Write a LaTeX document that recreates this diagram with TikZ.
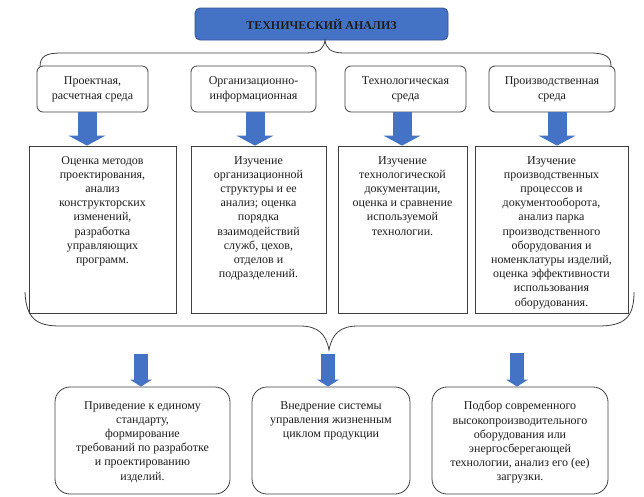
\documentclass[tikz,border=0pt]{standalone}
\usepackage{fontspec}
\setmainfont{Liberation Serif}
\usetikzlibrary{arrows.meta}
\definecolor{mblue}{HTML}{4472C4}
\definecolor{mblueborder}{HTML}{2F528F}
\definecolor{lineg}{HTML}{404040}
\definecolor{txtc}{HTML}{1E1E1E}
\tikzset{
  titlebox/.style={draw=mblueborder, fill=mblue, rounded corners=5pt, line width=0.8pt,
    minimum width=253pt, minimum height=32pt, inner sep=0pt,
    font=\bfseries\fontsize{12}{14}\selectfont, text=txtc},
  catbox/.style={draw=lineg, fill=white, rounded corners=6pt, line width=0.8pt,
    minimum height=46pt, inner sep=0pt, align=center,
    font=\fontsize{12}{15}\selectfont, text=txtc},
  contbox/.style={draw=lineg, fill=white, line width=0.8pt, minimum height=167pt, inner sep=0pt},
  resbox/.style={draw=lineg, fill=white, rounded corners=15pt, line width=0.8pt, minimum height=107pt, inner sep=0pt},
  bodytext/.style={anchor=north, inner sep=0pt, align=center,
    font=\fontsize{12}{14.2}\selectfont, text=txtc},
  bigarrow/.style={draw=mblue, line width=19pt, -{Triangle[width=37pt,length=10pt,line width=0pt]}},
  smallarrow/.style={draw=mblue, line width=14pt, -{Triangle[width=22pt,length=7pt,line width=0pt]}},
  bracepath/.style={draw=lineg, line width=0.8pt}
}
\begin{document}
\begin{tikzpicture}[x={(1pt,0pt)}, y={(0pt,-1pt)}]
\useasboundingbox (0,0) rectangle (644,496);

% title
\node[titlebox] (title) at (321.5,24) {ТЕХНИЧЕСКИЙ АНАЛИЗ};

% upper brace
\path[bracepath] (40,67) .. controls (40,56) and (46,53) .. (62,53) -- (306,53)
  .. controls (320,53) and (324,48) .. (325,40)
  .. controls (326,48) and (330,53) .. (344,53) -- (590,53)
  .. controls (606,53) and (611,57) .. (611,66);

% category boxes
\node[catbox, minimum width=111pt] (c1) at (92.5,89) {Проектная,\\расчетная среда};
\node[catbox, minimum width=125pt] (c2) at (253.5,89) {Организационно-\\информационная};
\node[catbox, minimum width=121pt] (c3) at (405.5,89) {Технологическая\\среда};
\node[catbox, minimum width=126pt] (c4) at (552,89) {Производственная\\среда};

% content boxes
\node[contbox, minimum width=147pt] (d1) at (102.5,229.5) {};
\node[contbox, minimum width=135pt] (d2) at (258.5,229.5) {};
\node[contbox, minimum width=129pt] (d3) at (402.5,229.5) {};
\node[contbox, minimum width=153pt] (d4) at (551.5,229.5) {};

\node[bodytext] (t1) at (102.5,156) {Оценка методов\\проектирования,\\анализ\\конструкторских\\изменений,\\разработка\\управляющих\\программ.};
\node[bodytext] (t2) at (258.5,156) {Изучение\\организационной\\структуры и ее\\анализ; оценка\\порядка\\взаимодействий\\служб, цехов,\\отделов и\\подразделений.};
\node[bodytext] (t3) at (402.5,156) {Изучение\\технологической\\документации,\\оценка и сравнение\\используемой\\технологии.};
\node[bodytext] (t4) at (551.5,156) {Изучение\\производственных\\процессов и\\документооборота,\\анализ парка\\производственного\\оборудования и\\номенклатуры изделий,\\оценка эффективности\\использования\\оборудования.};

% arrows from categories to content
\coordinate (ax1) at (87,0);
\coordinate (ax2) at (255,0);
\coordinate (ax3) at (402,0);
\coordinate (ax4) at (557,0);
\draw[bigarrow] (ax1 |- c1.south) -- (ax1 |- d1.north);
\draw[bigarrow] (ax2 |- c2.south) -- (ax2 |- d2.north);
\draw[bigarrow] (ax3 |- c3.south) -- (ax3 |- d3.north);
\draw[bigarrow] (ax4 |- c4.south) -- (ax4 |- d4.north);

% lower brace
\path[bracepath] (25,292) .. controls (26,318) and (36,326) .. (60,326) -- (300,326)
  .. controls (318,326) and (326,334) .. (329,350)
  .. controls (332,334) and (340,326) .. (358,326) -- (598,326)
  .. controls (624,326) and (634,318) .. (634,292);

% result boxes
\node[resbox, minimum width=175pt] (e1) at (142.5,440.5) {};
\node[resbox, minimum width=158pt] (e2) at (331,440.5) {};
\node[resbox, minimum width=176pt] (e3) at (520,440.5) {};

\node[bodytext] (u1) at (142.5,401) {Приведение к единому\\стандарту,\\формирование\\требований по разработке\\и проектированию\\изделий.};
\node[bodytext] (u2) at (331,401) {Внедрение системы\\управления жизненным\\циклом продукции};
\node[bodytext] (u3) at (520,401) {Подбор современного\\высокопроизводительного\\оборудования или\\энергосберегающей\\технологии, анализ его (ее)\\загрузки.};

% arrows to result boxes
\coordinate (s1) at (141,354);
\coordinate (s2) at (328,354);
\coordinate (s3) at (517,353);
\draw[smallarrow] (s1) -- (s1 |- e1.north);
\draw[smallarrow] (s2) -- (s2 |- e2.north);
\draw[smallarrow] (s3) -- (s3 |- e3.north);
\end{tikzpicture}
\end{document}
